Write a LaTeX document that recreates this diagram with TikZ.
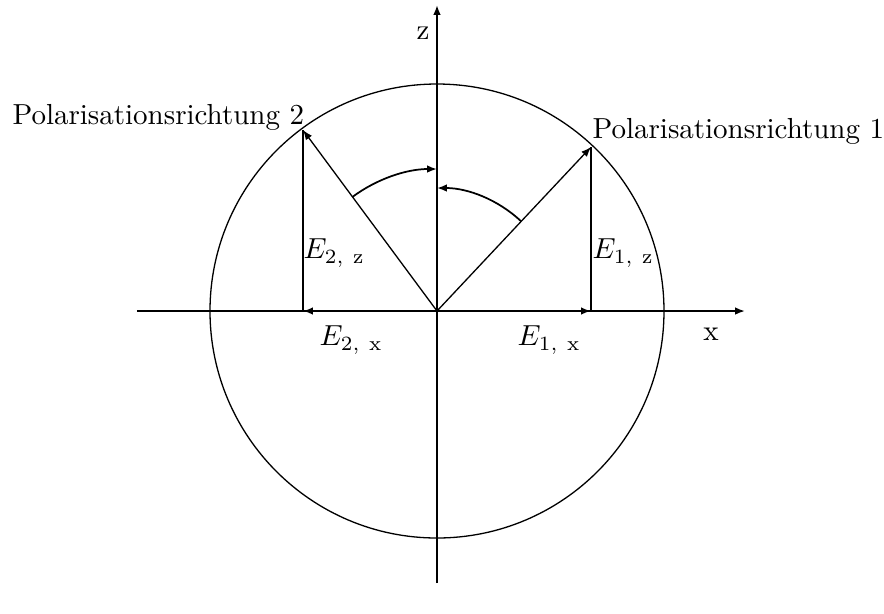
\documentclass[tikz,border=0pt]{standalone}
\usetikzlibrary{arrows.meta}
\begin{document}
\begin{tikzpicture}[x=0.345pt,y=0.345pt,
  tip/.style={-{Latex[length=3.4pt,width=2.6pt]}},
  axis/.style={line width=0.6pt,tip},
  comp/.style={line width=0.85pt},
  vec/.style={line width=0.45pt,tip},
  lbl/.style={inner sep=0pt,font=\fontsize{10pt}{12pt}\selectfont}]
\useasboundingbox (-437,-302) rectangle (447,311);
\coordinate (O) at (0,0);
\coordinate (xl) at (-300,0);
\coordinate (xr) at (308,0);
\coordinate (zb) at (0,-272);
\coordinate (zt) at (0,306);
\coordinate (P1) at (154,164);
\coordinate (P2) at (-134,181);
\coordinate (F1) at (154,0);
\coordinate (F2) at (-134,0);
% circle
\draw[line width=0.45pt] (O) circle (227);
% axes
\draw[axis] (xl) -- (xr);
\draw[axis] (zb) -- (zt);
% components
\draw[comp,tip] (O) -- (F1);
\draw[comp,tip] (O) -- (F2);
\draw[comp] (F1) -- (P1);
\draw[comp] (F2) -- (P2);
% vectors
\draw[vec] (O) -- (P1);
\draw[vec] (O) -- (P2);
% angle arcs
\draw[line width=0.6pt,tip] (46.8:123) arc[start angle=46.8,end angle=90,radius=123];
\draw[line width=0.6pt,tip] (126.5:142) arc[start angle=126.5,end angle=90,radius=142];
% labels
\node[lbl] (lz) at (-14,278) {z};
\node[lbl] (lx) at (274,-23) {x};
\node[lbl,anchor=base west] (pol1) at (155,173) {Polarisationsrichtung 1};
\node[lbl,anchor=base west] (pol2) at (-425,187) {Polarisationsrichtung 2};
\node[lbl,anchor=west] (e1z) at (155,58) {$E_{1,\ \mathrm{z}}$};
\node[lbl,anchor=west] (e2z) at (-134,58) {$E_{2,\ \mathrm{z}}$};
\node[lbl,anchor=west] (e2x) at (-118,-29) {$E_{2,\ \mathrm{x}}$};
\node[lbl,anchor=west] (e1x) at (80,-29) {$E_{1,\ \mathrm{x}}$};
\end{tikzpicture}
\end{document}
